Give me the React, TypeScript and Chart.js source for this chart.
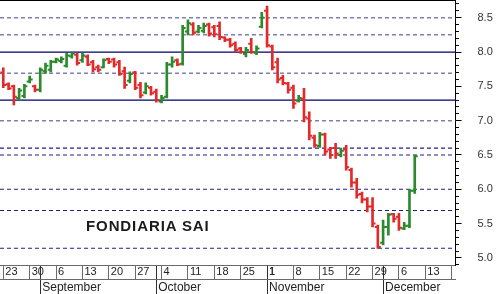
import React, { useEffect, useRef } from 'react';
import { Chart, registerables } from 'chart.js';

Chart.register(...registerables);

// ---- Data: daily OHLC, trading days from Mon 23 Aug 2010 (index 0) ----
const opens = [
  7.70, 7.53, 7.50, 7.33, 7.36, 7.57, 7.50, 7.45, 7.72, 7.74,
  7.86, 7.87, 7.80, 7.94, 7.96, 7.88, 7.93, 7.85, 7.78, 7.78,
  7.90, 7.89, 7.85, 7.72, 7.58, 7.70, 7.52, 7.41, 7.48, 7.42,
  7.28, 7.35, 7.82, 7.88, 7.83, 8.30, 8.40, 8.30, 8.31, 8.40,
  8.36, 8.38, 8.21, 8.18, 8.12, 8.05, 7.97, 8.12, 7.99, 8.37,
  8.60, 8.08, 7.85, 7.62, 7.54, 7.48, 7.29, 7.32, 7.03, 6.75,
  6.63, 6.80, 6.58, 6.60, 6.50, 6.58, 6.28, 6.10, 5.93, 5.85,
  5.75, 5.45, 5.22, 5.45, 5.64, 5.60, 5.43, 5.47, 5.98,
];
const highs = [
  7.77, 7.55, 7.52, 7.47, 7.53, 7.65, 7.52, 7.77, 7.84, 7.88,
  7.91, 7.93, 7.98, 8.00, 7.98, 7.98, 7.96, 7.88, 7.81, 7.90,
  7.91, 7.91, 7.88, 7.78, 7.71, 7.72, 7.56, 7.55, 7.50, 7.46,
  7.37, 7.85, 7.93, 7.90, 8.39, 8.47, 8.43, 8.39, 8.42, 8.42,
  8.39, 8.44, 8.22, 8.20, 8.15, 8.07, 8.07, 8.20, 8.09, 8.58,
  8.67, 8.10, 7.91, 7.66, 7.56, 7.52, 7.37, 7.47, 7.13, 6.79,
  6.83, 6.82, 6.61, 6.67, 6.60, 6.64, 6.31, 6.16, 5.96, 5.88,
  5.88, 5.48, 5.55, 5.65, 5.65, 5.65, 5.52, 6.00, 6.50,
];
const lows = [
  7.48, 7.45, 7.23, 7.30, 7.33, 7.55, 7.42, 7.42, 7.69, 7.71,
  7.84, 7.84, 7.78, 7.91, 7.81, 7.85, 7.80, 7.71, 7.71, 7.77,
  7.83, 7.78, 7.66, 7.47, 7.55, 7.45, 7.33, 7.39, 7.37, 7.27,
  7.26, 7.33, 7.78, 7.80, 7.81, 8.25, 8.25, 8.28, 8.28, 8.23,
  8.22, 8.18, 8.15, 8.07, 8.00, 7.98, 7.93, 7.98, 7.96, 8.35,
  8.07, 7.74, 7.55, 7.52, 7.40, 7.18, 7.27, 6.98, 6.72, 6.61,
  6.61, 6.50, 6.45, 6.45, 6.47, 6.28, 6.03, 5.87, 5.80, 5.67,
  5.45, 5.14, 5.19, 5.33, 5.52, 5.40, 5.41, 5.44, 5.94,
];
const closes = [
  7.52, 7.47, 7.35, 7.44, 7.50, 7.60, 7.45, 7.74, 7.80, 7.86,
  7.89, 7.90, 7.95, 7.98, 7.84, 7.95, 7.82, 7.75, 7.74, 7.88,
  7.86, 7.82, 7.68, 7.52, 7.68, 7.48, 7.37, 7.50, 7.40, 7.30,
  7.33, 7.82, 7.86, 7.82, 8.35, 8.42, 8.28, 8.35, 8.38, 8.27,
  8.26, 8.22, 8.18, 8.10, 8.03, 8.00, 8.03, 8.00, 8.05, 8.50,
  8.10, 7.78, 7.60, 7.55, 7.45, 7.25, 7.33, 7.05, 6.78, 6.64,
  6.80, 6.55, 6.50, 6.52, 6.56, 6.32, 6.10, 5.92, 5.85, 5.75,
  5.50, 5.16, 5.45, 5.63, 5.57, 5.44, 5.47, 5.98, 6.48,
];

// Week starts (Mondays) as trading-day index, with day-of-month labels
const weekStarts = [0, 5, 10, 15, 20, 25, 30, 35, 40, 45, 50, 55, 60, 65, 70, 75, 80, 85];
const weekLabels = ['23', '30', '6', '13', '20', '27', '4', '11', '18', '25', '1', '8', '15', '22', '29', '6', '13', ''];

// Month starts as trading-day index
const monthStarts = [7, 29, 50, 72];
const monthLabels = ['September', 'October', 'November', 'December'];

// Price axis labels
const yMajorTicks = [5.0, 5.5, 6.0, 6.5, 7.0, 7.5, 8.0, 8.5];

// Horizontal support / resistance levels
const lightDashedLevels = [8.5, 8.25, 7.69, 7.0];
const solidLevels = [8.0, 7.3];
const darkDashedLevels = [6.6, 6.5, 6.0, 5.69, 5.14];

const GREEN = '#2b8a2b';
const RED = '#e32a2a';
const FONT = '"Liberation Sans", Arial, Helvetica, sans-serif';

// axis extents (trading-day index and price)
const X_MIN = -3.3 / 5.275;
const X_MAX = X_MIN + 455.5 / 5.275;
const Y_MAX = 8.758;
const Y_MIN = 4.897;

const noPad = (s: any) => {
  s.paddingTop = 0;
  s.paddingBottom = 0;
  s.paddingLeft = 0;
  s.paddingRight = 0;
};

export default function App() {
  const ref = useRef<HTMLCanvasElement>(null);

  useEffect(() => {
    document.body.style.margin = '0';
    const canvas = ref.current;
    if (!canvas) return;

    const colors = closes.map((c, i) => (c >= opens[i] ? GREEN : RED));

    const levelSet = (vals: number[], color: string, width: number, dash: number[]) =>
      vals.map((v) => ({
        type: 'line' as const,
        data: [
          { x: X_MIN, y: v },
          { x: X_MAX, y: v },
        ],
        borderColor: color,
        borderWidth: width,
        borderDash: dash,
        pointRadius: 0,
        fill: false,
        order: 10,
        xAxisID: 'x',
        yAxisID: 'y',
      }));

    const dayTickValues = [...weekStarts, ...monthStarts].sort((a, b) => a - b);
    const dayLabelMap = new Map<number, string>();
    weekStarts.forEach((w, i) => dayLabelMap.set(w, weekLabels[i]));
    const monthSet = new Set(monthStarts);
    const monthLabelMap = new Map<number, string>();
    monthStarts.forEach((m, i) => monthLabelMap.set(m, monthLabels[i]));

    const yMinorTicks: number[] = [];
    for (let k = 49; k <= 87; k++) yMinorTicks.push(k / 10);

    const chart = new Chart(canvas, {
      type: 'line',
      data: {
        datasets: [
          ...levelSet(lightDashedLevels, '#8080b0', 1.5, [4, 3]),
          ...levelSet(solidLevels, '#00006e', 1.2, []),
          ...levelSet(darkDashedLevels, '#202080', 1.1, [4, 3]),
          {
            type: 'bar',
            data: lows.map((l, i) => ({ x: i, y: [l, highs[i]] })),
            backgroundColor: colors,
            borderWidth: 0,
            barThickness: 2,
            order: 1,
            xAxisID: 'x',
            yAxisID: 'y',
          } as any,
          {
            type: 'line',
            data: opens.map((o, i) => ({ x: i, y: o })),
            showLine: false,
            pointStyle: 'dash',
            pointRotation: 180,
            pointRadius: 3,
            pointBorderWidth: 2,
            pointBorderColor: colors,
            pointBackgroundColor: colors,
            order: 0,
            xAxisID: 'x',
            yAxisID: 'y',
          },
          {
            type: 'line',
            data: closes.map((c, i) => ({ x: i, y: c })),
            showLine: false,
            pointStyle: 'dash',
            pointRotation: 0,
            pointRadius: 3,
            pointBorderWidth: 2,
            pointBorderColor: colors,
            pointBackgroundColor: colors,
            order: 0,
            xAxisID: 'x',
            yAxisID: 'y',
          },
        ],
      },
      options: {
        animation: false,
        responsive: false,
        maintainAspectRatio: false,
        events: [],
        layout: { padding: 0, autoPadding: false },
        plugins: { legend: { display: false }, tooltip: { enabled: false }, title: { display: false } },
        scales: {
          x: {
            type: 'linear',
            position: 'bottom',
            weight: 0,
            min: X_MIN,
            max: X_MAX,
            offset: false,
            afterBuildTicks: (s: any) => {
              s.ticks = dayTickValues.map((v) => ({ value: v }));
            },
            afterFit: (s: any) => {
              s.height = 14;
              noPad(s);
            },
            ticks: {
              autoSkip: false,
              maxRotation: 0,
              minRotation: 0,
              align: 'start',
              labelOffset: 2,
              padding: -13.5,
              color: '#222',
              font: { family: FONT, size: 11 },
              callback: (v: any) => dayLabelMap.get(Number(v)) ?? '',
            },
            grid: {
              drawOnChartArea: false,
              offset: false,
              tickLength: 14,
              color: (c: any) => (c.tick && monthSet.has(c.tick.value) ? '#303030' : '#6a6a6a'),
            },
            border: { color: '#6a6a6a' },
          },
          xMonth: {
            type: 'linear',
            position: 'bottom',
            axis: 'x',
            weight: 1,
            min: X_MIN,
            max: X_MAX,
            offset: false,
            afterBuildTicks: (s: any) => {
              s.ticks = monthStarts.map((v) => ({ value: v }));
            },
            afterFit: (s: any) => {
              s.height = 15;
              noPad(s);
            },
            ticks: {
              autoSkip: false,
              maxRotation: 0,
              minRotation: 0,
              align: 'start',
              labelOffset: 2,
              padding: -14,
              color: '#222',
              font: { family: FONT, size: 12 },
              callback: (v: any) => monthLabelMap.get(Number(v)) ?? '',
            },
            grid: { drawOnChartArea: false, offset: false, tickLength: 15, color: '#303030' },
            border: { color: '#6a6a6a' },
          },
          xTop: {
            type: 'linear',
            position: 'top',
            axis: 'x',
            display: true,
            ticks: { display: false },
            grid: { display: false, drawTicks: false },
            border: { display: true, color: '#000', width: 2 },
            afterFit: (s: any) => {
              s.height = 0;
              noPad(s);
            },
          },
          y: {
            type: 'linear',
            position: 'right',
            min: Y_MIN,
            max: Y_MAX,
            afterBuildTicks: (s: any) => {
              s.ticks = yMajorTicks.map((v) => ({ value: v }));
            },
            afterFit: (s: any) => {
              s.width = 44.5;
              noPad(s);
            },
            ticks: {
              autoSkip: false,
              padding: 16,
              color: '#333',
              font: { family: FONT, size: 11 },
              callback: (v: any) => Number(v).toFixed(1),
            },
            grid: { drawOnChartArea: false, tickLength: 6, color: '#000' },
            border: { color: '#000' },
          },
          yMinor: {
            type: 'linear',
            axis: 'y',
            position: { x: X_MAX },
            min: Y_MIN,
            max: Y_MAX,
            afterBuildTicks: (s: any) => {
              s.ticks = yMinorTicks.map((v) => ({ value: v }));
            },
            afterFit: (s: any) => noPad(s),
            ticks: { display: false, autoSkip: false },
            grid: { drawOnChartArea: false, tickLength: -3, color: '#000' },
            border: { display: false },
          },
        } as any,
      },
    });

    return () => chart.destroy();
  }, []);

  return (
    <div style={{ position: 'relative', width: 500, height: 294, background: '#fff' }}>
      <canvas ref={ref} width={500} height={294} style={{ display: 'block' }} />
      <div
        style={{
          position: 'absolute',
          left: 86,
          top: 217,
          font: `bold 15px ${FONT}`,
          lineHeight: '17px',
          letterSpacing: '0.9px',
          color: '#1a1a1a',
          whiteSpace: 'nowrap',
        }}
      >
        FONDIARIA SAI
      </div>
    </div>
  );
}
